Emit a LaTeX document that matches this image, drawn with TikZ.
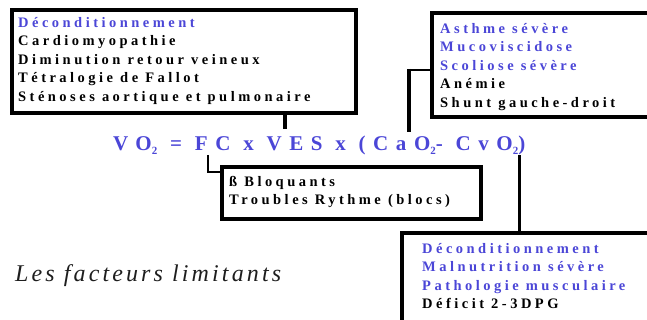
\documentclass[tikz,border=0pt]{standalone}
\usepackage{fontspec}
\setmainfont{Liberation Serif}
\newfontfamily\boxfont[LetterSpace=24]{Liberation Serif}
\newfontfamily\eqfont[LetterSpace=36]{Liberation Serif}
\newfontfamily\titlefont[LetterSpace=13]{Liberation Serif}
\definecolor{vblue}{RGB}{75,70,215}
\definecolor{tgray}{RGB}{30,30,30}
\newcommand{\lowtwo}{\raisebox{-0.4ex}{\fontsize{11}{11}\selectfont 2}}
\begin{document}
\begin{tikzpicture}[x=1pt,y=-1pt,
  boxst/.style={draw=black,line width=3.4pt,fill=white,inner sep=0pt,outer sep=0pt,anchor=north west},
  txt/.style={anchor=north west,inner sep=0pt,align=left,text=black,
    font=\boxfont\bfseries\fontsize{14.5}{18.5}\selectfont},
  eqst/.style={anchor=base west,inner sep=0pt,text=vblue,
    font=\eqfont\bfseries\fontsize{21}{21}\selectfont},
  thick line/.style={line width=3.5pt},
  thin line/.style={line width=2pt}]
\useasboundingbox (0,0) rectangle (647,320);
\clip (0,0) rectangle (647,320);
% boxes
\node[boxst,minimum width=344pt,minimum height=103pt] (b1) at (12,10) {};
\node[boxst,minimum width=240pt,minimum height=104pt] (b2) at (432,13) {};
\node[boxst,minimum width=259pt,minimum height=52pt,line width=4.5pt] (b3) at (222,167) {};
\node[boxst,minimum width=260pt,minimum height=100pt] (b4) at (402,233) {};
% texts
\node[txt] (t1) at (18,17) {\textcolor{vblue}{Déconditionnement}\\Cardiomyopathie\\Diminution retour veineux\\Tétralogie de Fallot\\Sténoses aortique et pulmonaire};
\node[txt] (t2) at (440,23) {\textcolor{vblue}{Asthme sévère}\\\textcolor{vblue}{Mucoviscidose}\\\textcolor{vblue}{Scoliose sévère}\\Anémie\\Shunt gauche-droit};
\node[txt] (t3) at (229,176) {ß Bloquants\\Troubles Rythme (blocs)};
\node[txt] (t4) at (422,243) {\textcolor{vblue}{Déconditionnement}\\\textcolor{vblue}{Malnutrition sévère}\\\textcolor{vblue}{Pathologie musculaire}\\Déficit 2-3DPG};
% equation
\node[eqst] (eq) at (113,151) {VO\lowtwo{} = FC x VES x (CaO\lowtwo- CvO\lowtwo)};
% title
\node[anchor=base west,inner sep=0pt,text=tgray,font=\titlefont\itshape\fontsize{24}{24}\selectfont] (title) at (15,281) {Les facteurs limitants};
% connectors
\coordinate (e1) at (285,129);
\coordinate (e2) at (409,132);
\coordinate (e3) at (208,155);
\coordinate (e4) at (519.5,155);
\draw[thick line] (b1.south -| e1) -- (e1);
\draw[thin line] (b2.west |- 0,70) -- (409,70);
\draw[thick line] (409,69) -- (e2);
\draw[thin line] (e3) -- (208,172) -- (b3.west |- 0,172);
\draw[thick line] (e4) -- (b4.north -| e4);
\end{tikzpicture}
\end{document}
